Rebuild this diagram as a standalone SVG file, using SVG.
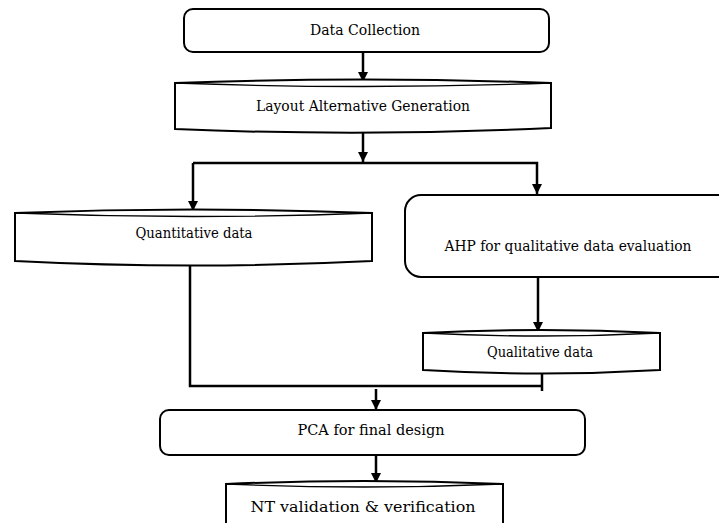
<svg xmlns="http://www.w3.org/2000/svg" width="719" height="523" viewBox="0 0 719 523">
<style>
.box{fill:#fff;stroke:#000;stroke-width:2}
.inner{fill:none;stroke:#000;stroke-width:1.3}
.t{font-family:'DejaVu Serif','Liberation Serif',serif;font-size:15px;fill:#000;text-anchor:middle}
.c{fill:none;stroke:#000;stroke-width:2.5}
</style>
<defs>
<marker id="ah" markerUnits="userSpaceOnUse" markerWidth="11" markerHeight="11" refX="10" refY="5.5" orient="auto">
<path d="M0,0.5 L10,5.5 L0,10.5 z" fill="#000"/>
</marker>
</defs>
<rect width="719" height="523" fill="#fff"/>
<g id="connectors">
<line class="c" x1="363" y1="52" x2="363" y2="82" marker-end="url(#ah)"/>
<line class="c" x1="363" y1="132" x2="363" y2="162" marker-end="url(#ah)"/>
<polyline class="c" points="193,163 537,163 537,194" marker-end="url(#ah)"/>
<line class="c" x1="193" y1="163" x2="193" y2="211" marker-end="url(#ah)"/>
<line class="c" x1="538" y1="277" x2="538" y2="332" marker-end="url(#ah)"/>
<polyline class="c" points="190,262 190,386 542,386"/>
<line class="c" x1="542" y1="371" x2="542" y2="391"/>
<line class="c" x1="376" y1="389" x2="376" y2="410" marker-end="url(#ah)"/>
<line class="c" x1="376" y1="456" x2="376" y2="483" marker-end="url(#ah)"/>
</g>
<g id="data-collection">
<rect class="box" x="184" y="9" width="365" height="43" rx="9"/>
<text class="t" x="365" y="35" textLength="110" lengthAdjust="spacingAndGlyphs">Data Collection</text>
</g>
<g id="layout-alternative">
<path class="box" d="M175,83 Q363,76 551,83 L551,128 Q363,137 175,129 Z"/>
<path class="inner" d="M175,83 Q363,90 551,83"/>
<text class="t" x="363" y="111" textLength="214" lengthAdjust="spacingAndGlyphs">Layout Alternative Generation</text>
</g>
<g id="quantitative">
<path class="box" d="M15,213 Q193,206 372,213 L372,261 Q193,270 15,261 Z"/>
<path class="inner" d="M15,213 Q193,220 372,213"/>
<text class="t" x="194" y="238" textLength="117" lengthAdjust="spacingAndGlyphs">Quantitative data</text>
</g>
<g id="ahp">
<rect class="box" x="405" y="195" width="340" height="82" rx="16"/>
<text class="t" x="568" y="251" textLength="247" lengthAdjust="spacingAndGlyphs">AHP for qualitative data evaluation</text>
</g>
<g id="qualitative">
<path class="box" d="M423,333 Q541,327 660,333 L660,370 Q541,377 423,370 Z"/>
<path class="inner" d="M423,333 Q541,339 660,333"/>
<text class="t" x="540" y="357" textLength="106" lengthAdjust="spacingAndGlyphs">Qualitative data</text>
</g>
<g id="pca">
<rect class="box" x="160" y="410" width="425" height="45" rx="9"/>
<text class="t" x="371" y="435" textLength="147" lengthAdjust="spacingAndGlyphs">PCA for final design</text>
</g>
<g id="nt">
<path class="box" d="M226,484 Q364,478 503,484 L503,530 L226,530 Z"/>
<path class="inner" d="M226,484 Q364,490 503,484"/>
<text class="t" x="363" y="512" textLength="225" lengthAdjust="spacingAndGlyphs">NT validation &amp; verification</text>
</g>
</svg>
